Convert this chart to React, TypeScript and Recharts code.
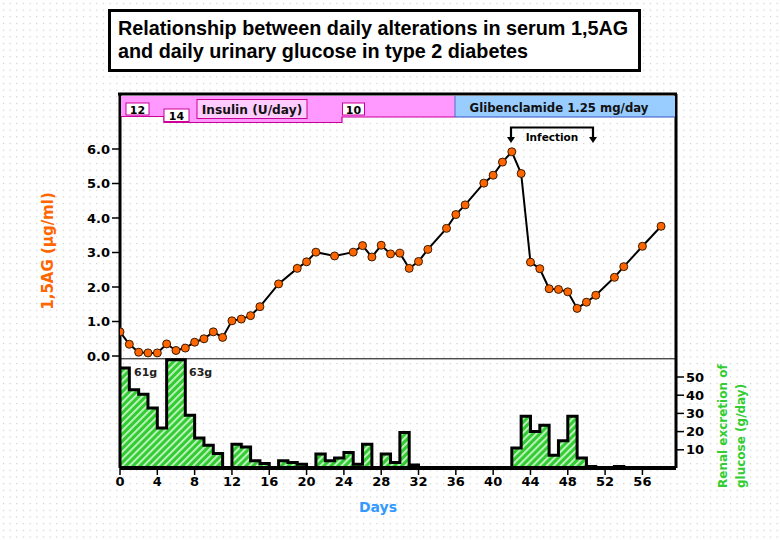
import React from 'react';
import {
  ComposedChart,
  Line,
  Area,
  XAxis,
  YAxis,
  ReferenceLine,
} from 'recharts';

// 1,5AG (µg/ml) by day
const agDays = [
  0, 1, 2, 3, 4, 5, 6, 7, 8, 9, 10, 11, 12, 13, 14, 15, 17, 19, 20, 21, 23, 25,
  26, 27, 28, 29, 30, 31, 32, 33, 35, 36, 37, 39, 40, 41, 42, 43, 44, 45, 46,
  47, 48, 49, 50, 51, 53, 54, 56, 58,
];
const agValues = [
  0.7, 0.34, 0.11, 0.09, 0.09, 0.35, 0.16, 0.23, 0.4, 0.5, 0.7, 0.54, 1.02,
  1.07, 1.17, 1.43, 2.09, 2.54, 2.73, 3.01, 2.9, 3.01, 3.2, 2.87, 3.21, 2.96,
  2.98, 2.54, 2.74, 3.09, 3.7, 4.1, 4.38, 5.01, 5.24, 5.62, 5.92, 5.29, 2.72,
  2.53, 1.95, 1.93, 1.86, 1.38, 1.56, 1.76, 2.28, 2.59, 3.18, 3.76,
];

// urinary glucose (g/day), one value per day starting at day 0
const glucoseDays = [
  0, 1, 2, 3, 4, 5, 6, 7, 8, 9, 10, 11, 12, 13, 14, 15, 16, 17, 18, 19, 20, 21,
  22, 23, 24, 25, 26, 27, 28, 29, 30, 31, 32, 33, 34, 35, 36, 37, 38, 39, 40,
  41, 42, 43, 44, 45, 46, 47, 48, 49, 50, 51, 52, 53, 54,
];
const glucoseValues = [
  55, 43, 40.5, 33, 22, 59.5, 59.5, 29, 16.5, 12.5, 8, 0, 13, 11.5, 4, 2.5, 0,
  4, 3, 2, 0, 7.7, 4, 5.5, 8.5, 2, 13, 0, 7.7, 3, 19.5, 1.6, 0, 0, 0, 0, 0, 0,
  0, 0, 0, 0, 11, 28.5, 20, 23.5, 7, 15, 28.5, 5.5, 0.8, 0, 0, 0.8, 0,
];

const dayTicks = [0, 4, 8, 12, 16, 20, 24, 28, 32, 36, 40, 44, 48, 52, 56];
const agTicks = [0, 1, 2, 3, 4, 5, 6];
const glucoseTicks = [10, 20, 30, 40, 50];

const agData = agDays.map((day, i) => ({ day, ag: agValues[i] }));
const glucoseData = glucoseDays.map((day, i) => ({ day, g: glucoseValues[i] }));

const FONT = '"DejaVu Sans", Verdana, sans-serif';
const TITLE_FONT = '"Liberation Sans", Arial, sans-serif';
const tickStyle = { fill: '#000', fontSize: 13, fontWeight: 'bold', fontFamily: FONT };

const AgDot = (props: any) => {
  const { cx, cy, index } = props;
  return <circle key={index} cx={cx} cy={cy} r={4} fill="#FF6600" stroke="#3a1a00" strokeWidth={1} />;
};

export default function App() {
  return (
    <div style={{ position: 'absolute', left: 0, top: 0, width: 780, height: 540, background: '#fff' }}>
      <svg width={780} height={540} style={{ position: 'absolute', left: 0, top: 0 }}>
        <defs>
          <pattern id="dots" width={6.67} height={6.67} patternUnits="userSpaceOnUse">
            <rect x={3} y={3} width={1} height={1} fill="#b8b8b8" />
          </pattern>
        </defs>
        <rect width={780} height={540} fill="url(#dots)" />
      </svg>

      <div style={{ position: 'absolute', left: 0, top: 0 }}>
        <ComposedChart
          width={780}
          height={540}
          margin={{ top: 94, right: 64, bottom: 41, left: 80 }}
        >
          <defs>
            <pattern id="hatch" width={5} height={5} patternUnits="userSpaceOnUse" patternTransform="rotate(45)">
              <rect width={5} height={5} fill="#33CC33" />
              <rect x={0} y={0} width={1.8} height={5} fill="#C8F5C8" />
            </pattern>
          </defs>
          <XAxis
            dataKey="day"
            type="number"
            domain={[0, 59.6]}
            ticks={dayTicks}
            interval={0}
            allowDataOverflow
            height={31}
            axisLine={{ stroke: '#000', strokeWidth: 4 }}
            tickLine={{ stroke: '#000', strokeWidth: 1.5 }}
            tickSize={7}
            tick={tickStyle}
          />
          <YAxis
            yAxisId="ag"
            orientation="left"
            type="number"
            domain={[-3.246, 7.594]}
            ticks={agTicks}
            interval={0}
            allowDataOverflow
            width={40}
            axisLine={{ stroke: '#000', strokeWidth: 3 }}
            tickLine={{ stroke: '#000', strokeWidth: 1.5 }}
            tickSize={8}
            tickFormatter={(v: number) => v.toFixed(1)}
            tick={tickStyle}
          />
          <YAxis
            yAxisId="glu"
            orientation="right"
            type="number"
            domain={[0, 205.5]}
            ticks={glucoseTicks}
            interval={0}
            allowDataOverflow
            width={40}
            axisLine={{ stroke: '#000', strokeWidth: 3 }}
            tickLine={{ stroke: '#000', strokeWidth: 1.5 }}
            tickSize={8}
            tick={tickStyle}
          />
          <ReferenceLine yAxisId="glu" y={60} stroke="#000" strokeWidth={1} />
          <Area
            yAxisId="glu"
            data={glucoseData}
            dataKey="g"
            type="stepAfter"
            stroke="#000"
            strokeWidth={3}
            fill="url(#hatch)"
            fillOpacity={1}
            isAnimationActive={false}
            dot={false}
            activeDot={false}
          />
          <Line
            yAxisId="ag"
            data={agData}
            dataKey="ag"
            type="linear"
            stroke="#000"
            strokeWidth={2}
            dot={AgDot}
            activeDot={false}
            isAnimationActive={false}
          />
        </ComposedChart>
      </div>

      <svg
        width={780}
        height={540}
        style={{ position: 'absolute', left: 0, top: 0, pointerEvents: 'none' }}
        fontFamily={FONT}
        fontWeight="bold"
      >
        {/* title */}
        <rect x={109.5} y={10.5} width={530} height={60} fill="#fff" stroke="#000" strokeWidth={3} />
        <text x={118} y={34.5} fontSize={19.8} fontFamily={TITLE_FONT} fill="#000">
          Relationship between daily alterations in serum 1,5AG
        </text>
        <text x={118} y={57.5} fontSize={19.8} fontFamily={TITLE_FONT} fill="#000">
          and daily urinary glucose in type 2 diabetes
        </text>

        {/* top frame */}
        <line x1={118} y1={94} x2={677} y2={94} stroke="#000" strokeWidth={3} />

        {/* treatment bands */}
        <polygon
          points="121,96 455,96 455,117 342,117 342,122.5 164,122.5 164,116.5 121,116.5"
          fill="#FF99FF"
        />
        <polyline
          points="121,116.5 164,116.5 164,122.5 342,122.5 342,117 455,117"
          fill="none"
          stroke="#CC0099"
          strokeWidth={1.2}
        />
        <rect x={455} y={96} width={220} height={21} fill="#99CCFF" />
        <line x1={455} y1={117} x2={675} y2={117} stroke="#3355CC" strokeWidth={1.2} />
        <line x1={455} y1={96} x2={455} y2={117} stroke="#3355CC" strokeWidth={0.8} />

        <rect x={126} y={103} width={23} height={12} fill="#fff" stroke="#CC0099" strokeWidth={1} />
        <text x={137.5} y={113.5} fontSize={11} textAnchor="middle" fill="#000">12</text>
        <rect x={164} y={109} width={25} height={12.5} fill="#fff" stroke="#CC0099" strokeWidth={1} />
        <text x={176.5} y={120} fontSize={11} textAnchor="middle" fill="#000">14</text>
        <rect x={197} y={99.5} width={110} height={19} fill="#FFCCFF" stroke="#CC0099" strokeWidth={1} />
        <text x={252} y={113.5} fontSize={12.2} textAnchor="middle" fill="#111">Insulin (U/day)</text>
        <rect x={342.5} y={103} width={22} height={12} fill="#fff" stroke="#CC0099" strokeWidth={1} />
        <text x={353.5} y={113.5} fontSize={11} textAnchor="middle" fill="#000">10</text>
        <text x={559} y={111.5} fontSize={11.7} textAnchor="middle" fill="#111">Glibenclamide 1.25 mg/day</text>

        {/* infection bracket */}
        <polyline points="511,140 511,127.5 593,127.5 593,140" fill="none" stroke="#000" strokeWidth={2.2} />
        <polygon points="507,137 515,137 511,143" fill="#000" />
        <polygon points="589,137 597,137 593,143" fill="#000" />
        <text x={552} y={141} fontSize={10.5} textAnchor="middle" fill="#000">Infection</text>

        {/* bar annotations */}
        <text x={134} y={376} fontSize={11} fill="#222">61g</text>
        <text x={189} y={376} fontSize={11} fill="#222">63g</text>

        {/* axis titles */}
        <text
          transform="translate(53,251) rotate(-90)"
          textAnchor="middle"
          fontSize={15}
          fill="#FF6600"
        >
          1,5AG  (µg/ml)
        </text>
        <text transform="translate(727,488) rotate(-90)" fontSize={12} fill="#33CC33">
          Renal excretion of
        </text>
        <text transform="translate(745,488) rotate(-90)" fontSize={12} fill="#33CC33">
          glucose (g/day)
        </text>
        <text x={378} y={512} fontSize={14} textAnchor="middle" fill="#3399FF">Days</text>
      </svg>
    </div>
  );
}
